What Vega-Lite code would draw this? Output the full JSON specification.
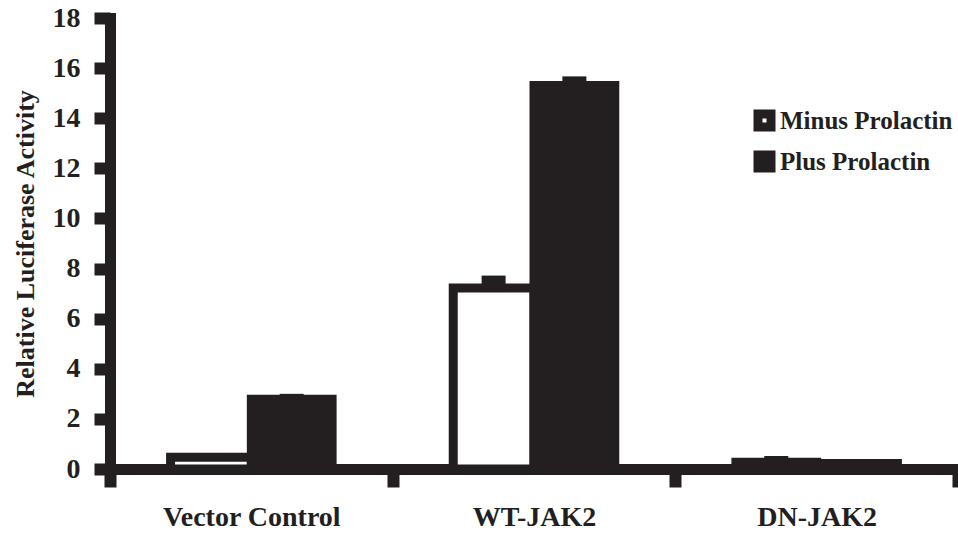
{
  "$schema": "https://vega.github.io/schema/vega-lite/v6.json",
  "width": 848,
  "height": 451,
  "autosize": "none",
  "padding": {"left": 110, "top": 18, "right": 0, "bottom": 66},
  "background": "white",
  "config": {
    "view": {"stroke": null},
    "font": "Liberation Serif",
    "axis": {
      "domainColor": "#231f20",
      "domainWidth": 11,
      "domainCap": "square",
      "tickColor": "#231f20",
      "tickWidth": 12,
      "labelFont": "Liberation Serif",
      "labelFontWeight": "bold",
      "labelColor": "#231f20",
      "titleFont": "Liberation Serif",
      "titleFontWeight": "bold",
      "titleColor": "#231f20",
      "grid": false
    }
  },
  "data": {
    "values": [
      {"construct": "Vector Control", "treatment": "Minus Prolactin", "activity": 0.47, "upper": 0.62},
      {"construct": "Vector Control", "treatment": "Plus Prolactin", "activity": 2.78, "upper": 3.0},
      {"construct": "WT-JAK2", "treatment": "Minus Prolactin", "activity": 7.22, "upper": 7.72},
      {"construct": "WT-JAK2", "treatment": "Plus Prolactin", "activity": 15.31, "upper": 15.67},
      {"construct": "DN-JAK2", "treatment": "Minus Prolactin", "activity": 0.27, "upper": 0.52},
      {"construct": "DN-JAK2", "treatment": "Plus Prolactin", "activity": 0.22, "upper": 0.3}
    ]
  },
  "encoding": {
    "x": {
      "field": "construct",
      "type": "nominal",
      "sort": ["Vector Control", "WT-JAK2", "DN-JAK2"],
      "scale": {"paddingInner": 0, "paddingOuter": 0},
      "axis": {
        "title": null,
        "tickBand": "extent",
        "tickSize": 18,
        "labelAngle": 0,
        "labelFontSize": 28,
        "labelPadding": 16
      }
    },
    "xOffset": {
      "field": "treatment",
      "sort": ["Minus Prolactin", "Plus Prolactin"],
      "scale": {"paddingInner": 0, "paddingOuter": 0.75}
    }
  },
  "layer": [
    {
      "mark": {"type": "bar", "stroke": "#231f20", "strokeWidth": 9},
      "encoding": {
        "y": {
          "field": "activity",
          "type": "quantitative",
          "scale": {"domain": [0, 18], "nice": false},
          "axis": {
            "title": "Relative Luciferase Activity",
            "titleFontSize": 26,
            "titlePadding": 14,
            "values": [0, 2, 4, 6, 8, 10, 12, 14, 16, 18],
            "tickSize": 16,
            "labelFontSize": 28,
            "labelPadding": 14
          }
        },
        "color": {
          "field": "treatment",
          "type": "nominal",
          "scale": {"domain": ["Minus Prolactin", "Plus Prolactin"], "range": ["white", "#231f20"]},
          "legend": {
            "orient": "none",
            "legendX": 642,
            "legendY": 90,
            "title": null,
            "symbolType": "square",
            "symbolSize": 169,
            "symbolStrokeWidth": 9,
            "symbolStrokeColor": "#231f20",
            "labelFont": "Liberation Serif",
            "labelFontWeight": "bold",
            "labelFontSize": 25,
            "labelColor": "#231f20",
            "labelLimit": 0,
            "labelOffset": 3,
            "rowPadding": -8
          }
        }
      }
    },
    {
      "mark": {"type": "bar", "width": 24, "color": "#231f20"},
      "encoding": {
        "y": {"field": "activity", "type": "quantitative"},
        "y2": {"field": "upper"}
      }
    }
  ]
}
